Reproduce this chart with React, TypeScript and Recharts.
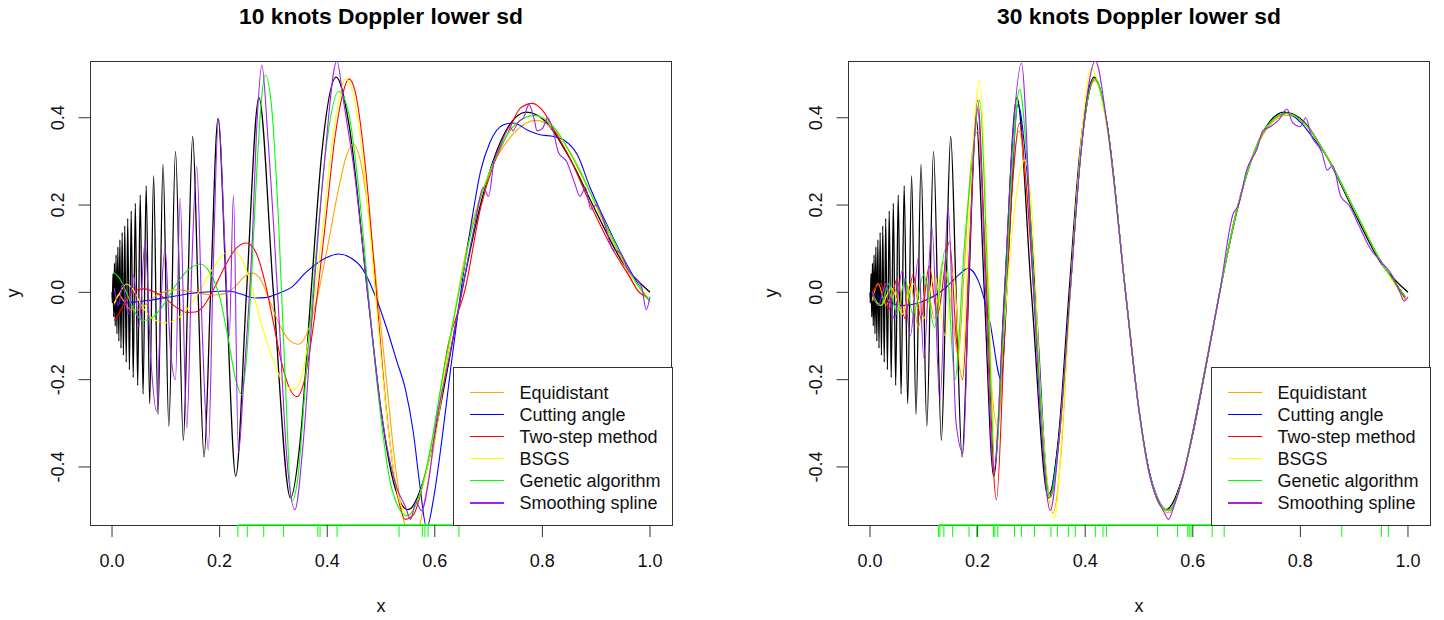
import React from 'react'
import { LineChart, Line, XAxis, YAxis, ReferenceLine } from 'recharts'

type Pt = [number, number]

const FONT = '"Liberation Sans", Arial, Helvetica, sans-serif'

const xTicks = [0, 0.2, 0.4, 0.6, 0.8, 1]
const yTicks = [-0.4, -0.2, 0, 0.2, 0.4]
const xDomain: [number, number] = [-0.04, 1.04]
const yDomain: [number, number] = [-0.533, 0.53]

const methodNames = ['Equidistant', 'Cutting angle', 'Two-step method', 'BSGS', 'Genetic algorithm', 'Smoothing spline']
const methodColors = ['#FFA500', '#0000FF', '#FF0000', '#FFFF00', '#00FF00', '#A020F0']

// true Doppler curve (peaks, troughs, crossings)
const dopplerTruth: Pt[] = [
    [0, 0], [0.0006, -0.024], [0.0019, 0.043], [0.0032, -0.056], [0.0045, 0.067], [0.006, -0.077],
    [0.0075, 0.086], [0.0092, -0.095], [0.0109, 0.104], [0.0127, -0.112], [0.0146, 0.12], [0.0167, -0.128],
    [0.0188, 0.137], [0.0212, -0.144], [0.0237, 0.152], [0.0264, -0.16], [0.0292, 0.169], [0.0323, -0.177],
    [0.0357, 0.186], [0.0394, -0.195], [0.0433, 0.204], [0.0477, -0.213], [0.0524, 0.223], [0.0577, -0.233],
    [0.0635, 0.244], [0.07, -0.255], [0.0773, 0.267], [0.0855, -0.28], [0.0948, 0.293], [0.1056, -0.307],
    [0.118, 0.323], [0.1326, -0.339], [0.1409, 0], [0.15, 0.357], [0.16, 0], [0.1711, -0.377], [0.1833, 0],
    [0.1971, 0.398], [0.2125, 0], [0.23, -0.421], [0.25, 0], [0.2731, 0.446], [0.3, 0], [0.3318, -0.471],
    [0.35, -0.337], [0.37, 0], [0.39, 0.32], [0.4167, 0.493], [0.44, 0.388], [0.475, 0], [0.5, -0.27],
    [0.52, -0.418], [0.55, -0.498], [0.58, -0.427], [0.6, -0.325], [0.62, -0.199], [0.65, 0], [0.68, 0.176],
    [0.7, 0.269], [0.73, 0.365], [0.77, 0.413], [0.8, 0.398], [0.85, 0.309], [0.9, 0.184], [0.95, 0.067], [1, 0],
]

const knots10 = [0.234, 0.2515, 0.282, 0.3187, 0.3826, 0.3867, 0.4183, 0.5336, 0.5768, 0.5817, 0.5876, 0.6448]
const knots30 = [
    0.1272, 0.1299, 0.1373, 0.1536, 0.184, 0.1982, 0.2294, 0.2321, 0.2375, 0.2686, 0.2815, 0.3058, 0.3363,
    0.3484, 0.3687, 0.3816, 0.4188, 0.433, 0.4398, 0.5345, 0.5717, 0.5907, 0.5934, 0.5968, 0.636, 0.6583,
    0.8769, 0.9506, 0.9635,
]

// ---- 10 knots panel ----
const equidistant10: Pt[] = [
    [0.004, -0.03], [0.012, -0.005], [0.022, -0.02], [0.035, -0.04], [0.05, -0.04], [0.065, -0.025],
    [0.085, -0.005], [0.105, 0.004], [0.12, 0.006], [0.14, 0.003], [0.165, -0.003], [0.19, -0.006],
    [0.21, -0.003], [0.23, 0.015], [0.245, 0.035], [0.26, 0.044], [0.275, 0.032], [0.29, -0.01], [0.31, -0.07],
    [0.33, -0.11], [0.347, -0.119], [0.362, -0.095], [0.38, -0.02], [0.4, 0.1], [0.42, 0.23], [0.435, 0.31],
    [0.448, 0.34], [0.462, 0.3], [0.478, 0.17], [0.495, -0.02], [0.51, -0.2], [0.525, -0.38], [0.54, -0.51],
    [0.555, -0.56], [0.57, -0.54], [0.585, -0.45], [0.6, -0.34], [0.62, -0.18], [0.64, -0.025], [0.666, 0.139],
    [0.7, 0.27], [0.74, 0.355], [0.79, 0.394], [0.83, 0.36], [0.87, 0.28], [0.91, 0.17], [0.95, 0.07],
    [0.98, 0.0], [0.995, -0.012],
]
const cutting10: Pt[] = [
    [0.004, -0.028], [0.03, -0.024], [0.07, -0.018], [0.11, -0.01], [0.15, -0.002], [0.19, 0.002],
    [0.215, 0.003], [0.24, -0.004], [0.265, -0.013], [0.285, -0.012], [0.31, -0.002], [0.334, 0.012],
    [0.36, 0.045], [0.396, 0.078], [0.421, 0.088], [0.445, 0.078], [0.465, 0.055], [0.49, -0.01], [0.51, -0.08],
    [0.53, -0.16], [0.545, -0.22], [0.56, -0.32], [0.572, -0.44], [0.585, -0.54], [0.598, -0.47], [0.614, -0.33],
    [0.63, -0.17], [0.647, -0.01], [0.668, 0.16], [0.685, 0.277], [0.703, 0.345], [0.728, 0.384], [0.747, 0.388],
    [0.772, 0.372], [0.796, 0.361], [0.821, 0.357], [0.84, 0.349], [0.865, 0.315], [0.889, 0.239], [0.92, 0.155],
    [0.95, 0.08], [0.975, 0.025], [0.998, -0.018],
]
const twoStep10: Pt[] = [
    [0.004, -0.065], [0.012, -0.05], [0.025, -0.02], [0.045, 0.005], [0.06, 0.008], [0.08, 0.0], [0.1, -0.015],
    [0.12, -0.035], [0.14, -0.046], [0.155, -0.045], [0.17, -0.032], [0.19, 0.01], [0.21, 0.06], [0.23, 0.1],
    [0.25, 0.113], [0.268, 0.09], [0.285, 0.02], [0.3, -0.07], [0.315, -0.16], [0.33, -0.22], [0.344, -0.239],
    [0.358, -0.2], [0.375, -0.07], [0.395, 0.14], [0.415, 0.36], [0.43, 0.46], [0.44, 0.489], [0.452, 0.46],
    [0.47, 0.3], [0.49, 0.02], [0.51, -0.27], [0.53, -0.46], [0.545, -0.52], [0.56, -0.51], [0.58, -0.43],
    [0.6, -0.31], [0.625, -0.12], [0.657, 0.01], [0.685, 0.193], [0.709, 0.292], [0.734, 0.36], [0.759, 0.422],
    [0.781, 0.433], [0.802, 0.414], [0.818, 0.38], [0.85, 0.31], [0.89, 0.2], [0.93, 0.1], [0.96, 0.04],
    [0.98, 0.0], [0.995, -0.01],
]
const bsgs10: Pt[] = [
    [0.004, -0.025], [0.015, 0.0], [0.027, 0.019], [0.04, 0.005], [0.055, -0.03], [0.075, -0.06], [0.1, -0.07],
    [0.12, -0.062], [0.14, -0.038], [0.16, -0.002], [0.18, 0.04], [0.2, 0.078], [0.222, 0.097], [0.24, 0.08],
    [0.258, 0.02], [0.275, -0.06], [0.295, -0.14], [0.315, -0.2], [0.339, -0.223], [0.355, -0.18],
    [0.372, -0.05], [0.392, 0.15], [0.412, 0.37], [0.425, 0.46], [0.434, 0.489], [0.445, 0.47], [0.46, 0.37],
    [0.478, 0.16], [0.495, -0.08], [0.515, -0.33], [0.535, -0.48], [0.552, -0.51], [0.57, -0.47],
    [0.59, -0.38], [0.615, -0.2], [0.64, -0.03], [0.67, 0.15], [0.71, 0.3], [0.75, 0.385], [0.785, 0.405],
    [0.82, 0.38], [0.86, 0.3], [0.9, 0.2], [0.94, 0.1], [0.97, 0.03], [0.998, -0.012],
]
const genetic10: Pt[] = [
    [0.004, 0.045], [0.015, 0.03], [0.03, -0.01], [0.045, -0.05], [0.058, -0.065], [0.075, -0.058],
    [0.095, -0.03], [0.115, 0.01], [0.14, 0.05], [0.164, 0.065], [0.182, 0.045], [0.2, -0.01], [0.215, -0.1],
    [0.23, -0.2], [0.241, -0.235], [0.25, -0.15], [0.26, 0.05], [0.27, 0.3], [0.285, 0.498], [0.297, 0.42],
    [0.31, 0.15], [0.322, -0.2], [0.334, -0.479], [0.345, -0.43], [0.36, -0.2], [0.38, 0.1], [0.4, 0.35],
    [0.421, 0.46], [0.44, 0.41], [0.46, 0.22], [0.48, -0.05], [0.5, -0.29], [0.52, -0.45], [0.548, -0.512],
    [0.57, -0.47], [0.59, -0.37], [0.615, -0.19], [0.64, -0.03], [0.67, 0.15], [0.71, 0.3], [0.75, 0.385],
    [0.785, 0.405], [0.82, 0.38], [0.86, 0.3], [0.9, 0.2], [0.94, 0.1], [0.97, 0.03], [1.0, -0.022],
]
const spline10: Pt[] = [
    [0.004, 0.01], [0.012, -0.03], [0.02, 0.02], [0.03, -0.05], [0.04, 0.04], [0.05, -0.08], [0.0614, 0.116],
    [0.072, -0.15], [0.083, -0.273], [0.09, -0.05], [0.0986, 0.101], [0.108, -0.12], [0.118, -0.2],
    [0.1265, 0.216], [0.139, -0.311], [0.148, 0.05], [0.1575, 0.288], [0.168, -0.1], [0.179, -0.361],
    [0.188, 0.05], [0.198, 0.399], [0.21, 0.1], [0.218, -0.1], [0.2257, 0.223], [0.235, -0.368], [0.245, -0.2],
    [0.26, 0.1], [0.27, 0.4], [0.2785, 0.521], [0.29, 0.35], [0.31, -0.05], [0.325, -0.38], [0.34, -0.498],
    [0.355, -0.35], [0.375, 0.0], [0.395, 0.3], [0.418, 0.53], [0.43, 0.44], [0.45, 0.28], [0.475, 0.0],
    [0.5, -0.27], [0.53, -0.45], [0.545, -0.49], [0.555, -0.52], [0.565, -0.48], [0.575, -0.5], [0.59, -0.42],
    [0.6, -0.32], [0.625, -0.16], [0.65, 0.0], [0.675, 0.16], [0.69, 0.24], [0.7, 0.22], [0.71, 0.3],
    [0.72, 0.33], [0.73, 0.36], [0.74, 0.38], [0.745, 0.37], [0.755, 0.39], [0.765, 0.4], [0.775, 0.43],
    [0.785, 0.395], [0.79, 0.37], [0.8, 0.375], [0.81, 0.4], [0.82, 0.37], [0.83, 0.32], [0.845, 0.3],
    [0.86, 0.25], [0.87, 0.22], [0.88, 0.24], [0.89, 0.19], [0.9, 0.2], [0.915, 0.16], [0.93, 0.1],
    [0.945, 0.09], [0.96, 0.05], [0.975, 0.03], [0.985, 0.01], [0.993, -0.04], [1.0, -0.01],
]

// ---- 30 knots panel ----
const equidistant30: Pt[] = [
    [0.004, -0.02], [0.015, 0.02], [0.03, -0.03], [0.045, 0.01], [0.06, -0.05], [0.075, 0.02], [0.09, -0.08],
    [0.105, 0.02], [0.12, -0.06], [0.135, 0.07], [0.15, -0.02], [0.164, -0.147], [0.175, 0.05], [0.188, 0.3],
    [0.2, 0.37], [0.212, 0.15], [0.225, -0.2], [0.237, -0.307], [0.25, -0.1], [0.262, 0.2], [0.277, 0.37],
    [0.29, 0.25], [0.31, -0.1], [0.325, -0.38], [0.34, -0.506], [0.355, -0.37], [0.372, 0.0], [0.39, 0.3],
    [0.418, 0.485], [0.44, 0.39], [0.475, 0.0], [0.5, -0.27], [0.52, -0.42], [0.555, -0.505], [0.58, -0.43],
    [0.6, -0.32], [0.62, -0.195], [0.65, 0.0], [0.68, 0.18], [0.7, 0.27], [0.73, 0.36], [0.775, 0.405],
    [0.8, 0.395], [0.85, 0.31], [0.9, 0.19], [0.95, 0.07], [0.995, -0.01],
]
const cutting30: Pt[] = [
    [0.004, 0.0], [0.03, -0.02], [0.06, -0.03], [0.1, -0.02], [0.14, 0.01], [0.165, 0.04], [0.1824, 0.055],
    [0.2, 0.03], [0.222, -0.063], [0.244, -0.2], [0.258, 0.1], [0.275, 0.43], [0.29, 0.3], [0.31, -0.05],
    [0.333, -0.46], [0.352, -0.32], [0.372, 0.0], [0.392, 0.32], [0.418, 0.49], [0.44, 0.39], [0.475, 0.0],
    [0.5, -0.27], [0.52, -0.415], [0.555, -0.5], [0.58, -0.43], [0.6, -0.32], [0.62, -0.195], [0.65, 0.0],
    [0.68, 0.18], [0.7, 0.27], [0.73, 0.365], [0.775, 0.41], [0.8, 0.39], [0.82, 0.36], [0.85, 0.31],
    [0.9, 0.19], [0.95, 0.07], [0.995, -0.01],
]
const twoStep30: Pt[] = [
    [0.004, 0.0], [0.02, 0.02], [0.035, -0.04], [0.05, 0.03], [0.065, -0.06], [0.08, 0.04], [0.095, -0.06],
    [0.11, 0.06], [0.125, -0.05], [0.148, 0.116], [0.16, -0.1], [0.172, -0.2], [0.185, 0.1], [0.2, 0.44],
    [0.215, 0.05], [0.235, -0.475], [0.25, -0.1], [0.265, 0.25], [0.278, 0.388], [0.29, 0.25], [0.31, -0.1],
    [0.335, -0.47], [0.352, -0.33], [0.372, 0.0], [0.392, 0.32], [0.418, 0.49], [0.44, 0.39], [0.475, 0.0],
    [0.5, -0.27], [0.52, -0.42], [0.555, -0.5], [0.58, -0.43], [0.6, -0.32], [0.62, -0.195], [0.65, 0.0],
    [0.68, 0.18], [0.7, 0.27], [0.73, 0.365], [0.775, 0.41], [0.8, 0.395], [0.85, 0.31], [0.9, 0.19],
    [0.95, 0.07], [0.995, -0.015],
]
const bsgs30: Pt[] = [
    [0.004, -0.01], [0.02, -0.03], [0.04, 0.01], [0.06, -0.05], [0.08, 0.02], [0.1, -0.06], [0.12, 0.04],
    [0.14, -0.1], [0.155, 0.05], [0.17, -0.2], [0.185, 0.2], [0.204, 0.487], [0.218, 0.1], [0.232, -0.345],
    [0.248, -0.1], [0.265, 0.15], [0.2876, 0.3035], [0.3, 0.2], [0.318, -0.25], [0.343, -0.517], [0.358, -0.3],
    [0.375, 0.05], [0.395, 0.38], [0.411, 0.513], [0.44, 0.38], [0.475, 0.0], [0.5, -0.27], [0.52, -0.42],
    [0.555, -0.5], [0.58, -0.43], [0.6, -0.32], [0.62, -0.195], [0.65, 0.0], [0.68, 0.18], [0.7, 0.27],
    [0.73, 0.365], [0.775, 0.41], [0.8, 0.395], [0.85, 0.31], [0.9, 0.19], [0.95, 0.07], [0.995, -0.02],
]
const genetic30: Pt[] = [
    [0.004, 0.0], [0.02, -0.03], [0.035, 0.02], [0.05, -0.05], [0.065, 0.03], [0.08, -0.05], [0.1, 0.04],
    [0.12, -0.08], [0.14, 0.1], [0.158, -0.2], [0.175, 0.1], [0.19, 0.3], [0.204, 0.441], [0.218, 0.05],
    [0.232, -0.39], [0.248, -0.1], [0.265, 0.3], [0.278, 0.465], [0.292, 0.3], [0.31, -0.1], [0.334, -0.47],
    [0.352, -0.33], [0.372, 0.0], [0.392, 0.32], [0.418, 0.49], [0.44, 0.39], [0.475, 0.0], [0.5, -0.27],
    [0.52, -0.42], [0.555, -0.5], [0.58, -0.43], [0.6, -0.32], [0.62, -0.195], [0.65, 0.0], [0.68, 0.18],
    [0.7, 0.27], [0.73, 0.365], [0.775, 0.41], [0.8, 0.395], [0.85, 0.31], [0.9, 0.19], [0.95, 0.07],
    [0.995, -0.01],
]
const spline30: Pt[] = [
    [0.004, 0.0], [0.015, -0.03], [0.03, 0.02], [0.045, -0.06], [0.06, 0.05], [0.075, -0.1], [0.09, 0.08],
    [0.1, -0.15], [0.115, 0.15], [0.13, -0.25], [0.145, 0.2], [0.16, -0.3], [0.173, -0.368], [0.185, 0.1],
    [0.2, 0.42], [0.215, 0.0], [0.23, -0.41], [0.248, -0.05], [0.265, 0.35], [0.2814, 0.525], [0.3, 0.1],
    [0.318, -0.3], [0.335, -0.5], [0.352, -0.33], [0.372, 0.0], [0.392, 0.32], [0.419, 0.53], [0.44, 0.39],
    [0.475, 0.0], [0.5, -0.27], [0.52, -0.42], [0.545, -0.5], [0.555, -0.52], [0.565, -0.49], [0.58, -0.43],
    [0.6, -0.32], [0.62, -0.195], [0.65, 0.0], [0.675, 0.18], [0.685, 0.2], [0.7, 0.28], [0.72, 0.33],
    [0.73, 0.37], [0.745, 0.38], [0.76, 0.395], [0.775, 0.42], [0.785, 0.39], [0.8, 0.38], [0.81, 0.4],
    [0.82, 0.36], [0.84, 0.32], [0.85, 0.28], [0.86, 0.29], [0.875, 0.22], [0.89, 0.2], [0.91, 0.15],
    [0.93, 0.1], [0.95, 0.07], [0.97, 0.04], [0.985, 0.0], [0.993, -0.02], [1.0, -0.01],
]

const fits10 = [equidistant10, cutting10, twoStep10, bsgs10, genetic10, spline10]
const fits30 = [equidistant30, cutting30, twoStep30, bsgs30, genetic30, spline30]

const toRows = (pts: Pt[]) => pts.map(([x, y]) => ({ x, y }))

const PANEL_W = 686
const PANEL_H = 620
const Y_AXIS_W = 90
const PLOT_L = 90.5
const PLOT_W = 581
const PLOT_T = 61
const PLOT_B = 525

const fmt = (v: number) => v.toFixed(1)

interface PanelProps {
    left: number
    title: string
    fits: Pt[][]
    knots: number[]
}

const Panel: React.FC<PanelProps> = ({ left, title, fits, knots }) => {
    const knotSet = new Set(knots)

    const renderXTick = (props: any) => {
        const { x, y, payload } = props
        if (knotSet.has(payload.value)) {
            return <line x1={x} x2={x} y1={y} y2={y + 12} stroke="#00FF00" strokeWidth={1} />
        }
        return (
            <g>
                <line x1={x} x2={x} y1={y} y2={y + 12} stroke="#333" strokeWidth={1} />
                <text x={x} y={y + 42} textAnchor="middle" fontSize={18} fill="#111" style={{ fontFamily: FONT }}>
                    {fmt(payload.value)}
                </text>
            </g>
        )
    }

    const renderYTick = (props: any) => {
        const { x, y, payload } = props
        const tx = x - 26
        return (
            <g>
                <line x1={x} x2={x - 12} y1={y} y2={y} stroke="#333" strokeWidth={1} />
                <text
                    x={tx}
                    y={y}
                    textAnchor="middle"
                    fontSize={18}
                    fill="#111"
                    transform={`rotate(-90, ${tx}, ${y})`}
                    style={{ fontFamily: FONT }}
                >
                    {fmt(payload.value)}
                </text>
            </g>
        )
    }

    return (
        <div style={{ position: 'absolute', left, top: 0, width: PANEL_W, height: PANEL_H }}>
            <div
                style={{
                    position: 'absolute',
                    left: PLOT_L,
                    width: PLOT_W,
                    top: 4,
                    textAlign: 'center',
                    fontFamily: FONT,
                    fontWeight: 'bold',
                    fontSize: 22.8,
                    lineHeight: '24px',
                    color: '#000',
                    whiteSpace: 'nowrap',
                }}
            >
                {title}
            </div>
            <div
                style={{
                    position: 'absolute',
                    left: 90,
                    top: PLOT_T,
                    width: PLOT_W + 1,
                    height: PLOT_B - PLOT_T + 1,
                    border: '1px solid #333',
                    boxSizing: 'border-box',
                }}
            />
            <div style={{ position: 'absolute', left: 0, top: 0 }}>
                <LineChart
                    width={PANEL_W}
                    height={PANEL_H}
                    margin={{ top: PLOT_T, right: PANEL_W - PLOT_L - PLOT_W, bottom: 0, left: PLOT_L - Y_AXIS_W }}
                >
                    <XAxis
                        type="number"
                        dataKey="x"
                        domain={xDomain}
                        allowDataOverflow
                        ticks={[...xTicks, ...knots]}
                        interval={0}
                        tickLine={false}
                        axisLine={false}
                        tickSize={0}
                        tickMargin={0}
                        height={PANEL_H - PLOT_B}
                        tick={renderXTick}
                        label={(p: any) => {
                            const vb = p.viewBox
                            return (
                                <text x={vb.x + vb.width / 2} y={vb.y + 87} textAnchor="middle" fontSize={18} fill="#111" style={{ fontFamily: FONT }}>
                                    x
                                </text>
                            )
                        }}
                    />
                    <YAxis
                        type="number"
                        dataKey="y"
                        domain={yDomain}
                        allowDataOverflow
                        ticks={yTicks}
                        interval={0}
                        tickLine={false}
                        axisLine={false}
                        tickSize={0}
                        tickMargin={0}
                        width={Y_AXIS_W}
                        tick={renderYTick}
                        label={(p: any) => {
                            const vb = p.viewBox
                            const cx = 18.5
                            const cy = vb.y + vb.height / 2
                            return (
                                <text x={cx} y={cy} textAnchor="middle" fontSize={18} fill="#111" transform={`rotate(-90, ${cx}, ${cy})`} style={{ fontFamily: FONT }}>
                                    y
                                </text>
                            )
                        }}
                    />
                    <Line data={toRows(dopplerTruth)} dataKey="y" type="monotone" stroke="#000" strokeWidth={1.3} dot={false} isAnimationActive={false} />
                    {fits.map((pts, i) => (
                        <Line
                            key={methodNames[i]}
                            data={toRows(pts)}
                            dataKey="y"
                            type="monotone"
                            stroke={methodColors[i]}
                            strokeWidth={1.1}
                            dot={false}
                            isAnimationActive={false}
                        />
                    ))}
                    <ReferenceLine
                        segment={[
                            { x: knots[0], y: yDomain[0] },
                            { x: knots[knots.length - 1], y: yDomain[0] },
                        ]}
                        stroke="#00FF00"
                        strokeWidth={1.5}
                        ifOverflow="visible"
                    />
                </LineChart>
            </div>
            <div
                style={{
                    position: 'absolute',
                    left: 452.5,
                    top: 367,
                    width: PLOT_L + PLOT_W - 452.5 + 1,
                    height: PLOT_B - 367 + 1,
                    border: '1px solid #333',
                    boxSizing: 'border-box',
                    background: '#fff',
                    fontFamily: FONT,
                    fontSize: 18,
                    color: '#111',
                }}
            >
                {methodNames.map((name, i) => (
                    <div key={name} style={{ position: 'absolute', left: 0, top: 13.5 + i * 22.1, height: 22, width: '100%' }}>
                        <div style={{ position: 'absolute', left: 16, top: 10, width: 34, height: 1.5, background: methodColors[i] }} />
                        <div style={{ position: 'absolute', left: 66, top: 0, lineHeight: '22px', whiteSpace: 'nowrap' }}>{name}</div>
                    </div>
                ))}
            </div>
        </div>
    )
}

export default function App() {
    return (
        <div style={{ position: 'absolute', left: 0, top: 0, width: 1444, height: 620, background: '#fff', overflow: 'hidden' }}>
            <Panel left={0} title="10 knots Doppler lower sd" fits={fits10} knots={knots10} />
            <Panel left={758} title="30 knots Doppler lower sd" fits={fits30} knots={knots30} />
        </div>
    )
}
